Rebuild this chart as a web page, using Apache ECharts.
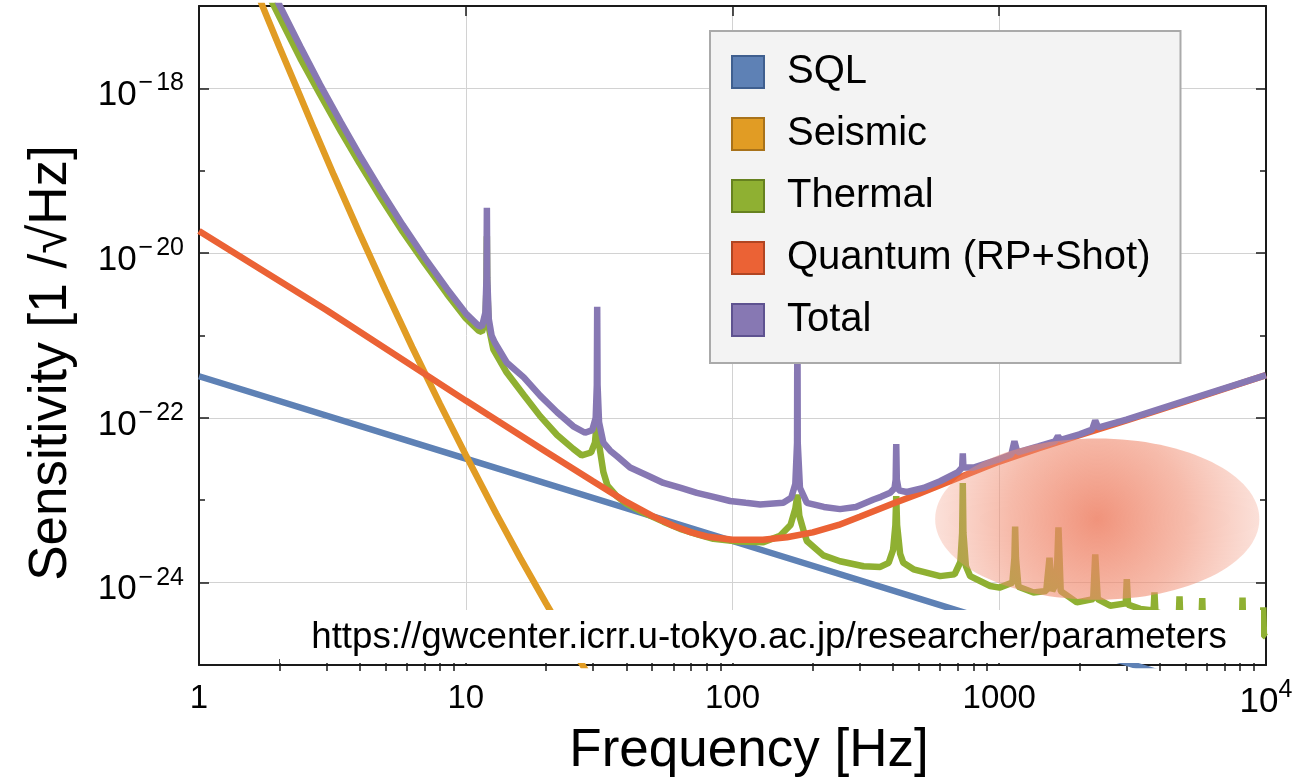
<!DOCTYPE html>
<html>
<head>
<meta charset="utf-8">
<script src="https://cdn.jsdelivr.net/npm/echarts@6.0.0/dist/echarts.min.js"></script>
<style>
  html, body { margin: 0; padding: 0; background: #fff; }
  #chart { width: 1315px; height: 778px; }
</style>
</head>
<body>
<div id="chart"></div>
<script>
// 轴刻度
var freqLabels = [1, 10, 100, 1000, 10000];
var freqMajorTicks = [10, 100, 1000];
var freqMinorTicks = [2, 3, 4, 5, 6, 7, 8, 9, 20, 30, 40, 50, 60, 70, 80, 90,
    200, 300, 400, 500, 600, 700, 800, 900, 2000, 3000, 4000, 5000, 6000, 7000, 8000, 9000];
var sensLabels = [1e-24, 1e-22, 1e-20, 1e-18];
var sensOddTicks = [1e-23, 1e-21, 1e-19];

// SQL
var sqlFreq = [1, 10, 100, 1000, 10000];
var sqlVal = [3.2e-22, 3.2e-23, 3.2e-24, 3.2e-25, 3.2e-26];

// Seismic
var seisFreq = [1.55, 1.73, 2.0, 2.3, 2.7, 3.2, 4.0, 5.0, 6.3, 8.0, 10, 13, 16, 20, 25, 32];
var seisVal = [2.5e-17, 1.0e-17, 3.2e-18, 1.1e-18, 3.2e-19, 8.9e-20, 1.74e-20, 3.55e-21,
    7.2e-22, 1.48e-22, 3.55e-23, 6.9e-24, 2.0e-24, 5.6e-25, 1.62e-25, 4.4e-26];

// Thermal
var thermFreq = [
    1.8, 2.01, 2.4, 2.84, 3.4,
    4.0, 4.8, 5.8, 7.0, 8.5,
    10, 11.15, 11.5, 11.85, 11.96,
    12.0, 12.04, 12.2, 12.69, 14.24,
    16.5, 19.0, 22, 25.3, 27.2,
    29.5, 30.5, 31.1, 31.7, 32.8,
    34.0, 36.8, 40, 46.3, 55,
    63.6, 75, 84.8, 105, 130.6,
    150.8, 165, 172, 175.1, 178,
    185, 190, 219, 253, 310,
    358, 385, 400, 408, 411,
    414, 425, 437, 477, 600,
    680, 715, 726, 730, 734,
    750, 778, 925, 1002, 1120,
    1140, 1147, 1155, 1180, 1344,
    1500, 1543, 1580, 1640, 1667,
    1700, 1954, 2250, 2290, 2340,
    2605, 2980, 3007, 3040, 3376,
    3790, 3818, 3850, 4300, 4710,
    4740, 4770, 5730, 5767, 5800,
    6500, 8120, 8166, 8210, 9000,
    9720, 9770, 9820, 10000
];
var thermVal = [
    1.48e-17, 7.2e-18, 2.3e-18, 8.5e-19, 3.0e-19,
    1.23e-19, 4.7e-20, 1.82e-20, 7.6e-21, 3.2e-21,
    1.62e-21, 1.15e-21, 1.1e-21, 1.5e-21, 4.0e-21,
    1.6e-20, 4.0e-21, 1.26e-21, 6.8e-22, 3.55e-22,
    1.9e-22, 1.05e-22, 6.2e-23, 4.2e-23, 3.5e-23,
    3.8e-23, 5.0e-23, 1.0e-22, 4.5e-23, 2.2e-23,
    1.5e-23, 1.12e-23, 9.1e-24, 7.1e-24, 5.5e-24,
    4.5e-24, 3.8e-24, 3.4e-24, 3.16e-24, 3.1e-24,
    3.7e-24, 5.0e-24, 7.9e-24, 1.17e-23, 6.5e-24,
    4.2e-24, 3.2e-24, 2.14e-24, 1.82e-24, 1.58e-24,
    1.55e-24, 1.74e-24, 2.5e-24, 5.0e-24, 1.12e-23,
    5.0e-24, 2.24e-24, 1.74e-24, 1.45e-24, 1.2e-24,
    1.26e-24, 1.78e-24, 4.0e-24, 1.62e-23, 4.0e-24,
    1.58e-24, 1.2e-24, 9.1e-25, 8.7e-25, 1.0e-24,
    2.0e-24, 4.8e-24, 2.0e-24, 8.9e-25, 7.6e-25,
    7.9e-25, 2.0e-24, 7.9e-25, 1.0e-24, 4.7e-24,
    7.9e-25, 5.75e-25, 6.3e-25, 2.2e-24, 6.3e-25,
    5.25e-25, 5.6e-25, 1.1e-24, 5.4e-25, 4.8e-25,
    4.6e-25, 7.6e-25, 4.4e-25, 4.0e-25, 3.8e-25,
    6.8e-25, 3.8e-25, 3.55e-25, 6.5e-25, 3.4e-25,
    3.2e-25, 2.75e-25, 6.6e-25, 2.7e-25, 2.5e-25,
    2.4e-25, 5.0e-25, 2.3e-25, 2.2e-25
];

// Quantum (RP+Shot)
var quantFreq = [1, 3, 10, 20, 30, 40, 50, 60, 70, 80, 100, 130, 160, 200,
    250, 300, 400, 500, 700, 1000, 1400, 2000, 3000, 5000, 10000];
var quantVal = [1.86e-20, 2.04e-21, 1.62e-22, 3.89e-23, 1.7e-23, 9.55e-24, 6.46e-24, 4.9e-24, 4.07e-24, 3.63e-24, 3.31e-24, 3.31e-24, 3.55e-24, 4.07e-24,
    5.01e-24, 6.31e-24, 9.12e-24, 1.2e-23, 1.86e-23, 2.95e-23, 4.27e-23, 6.17e-23, 9.33e-23, 1.58e-22, 3.31e-22];

// Total
var totFreq = [
    1.8, 2.01, 2.4, 2.84, 3.4,
    4.0, 4.8, 5.8, 7.0, 8.5,
    10, 11.15, 11.5, 11.85, 11.96,
    12.0, 12.04, 12.2, 12.5, 12.88,
    14.24, 16.5, 19.0, 22, 25.3,
    28.0, 29.8, 30.7, 31.0, 31.1,
    31.2, 31.6, 32.8, 34.8, 37,
    41.3, 48, 55.1, 64, 73.5,
    85, 98, 112, 126.9, 155,
    166, 172, 174.6, 175.1, 175.6,
    179, 190, 220, 253, 290,
    338, 360, 390, 405, 409,
    411, 413, 420, 450, 520,
    600, 700, 726, 730, 734,
    801, 1002, 1110, 1140, 1170,
    1400, 1620, 1660, 1700, 2000,
    2230, 2290, 2350, 3000, 5000,
    10000
];
var totVal = [
    2.1e-17, 1.0e-17, 3.2e-18, 1.12e-18, 3.9e-19,
    1.55e-19, 5.8e-20, 2.2e-20, 8.9e-21, 3.7e-21,
    1.86e-21, 1.32e-21, 1.28e-21, 1.9e-21, 5.0e-21,
    3.55e-20, 5.0e-21, 1.58e-21, 1.0e-21, 8.1e-22,
    4.7e-22, 3.1e-22, 1.86e-22, 1.17e-22, 7.9e-23,
    6.6e-23, 7.1e-23, 1.0e-22, 2.5e-22, 2.24e-21,
    2.5e-22, 8.9e-23, 5.0e-23, 4.0e-23, 3.4e-23,
    2.5e-23, 2.0e-23, 1.62e-23, 1.41e-23, 1.23e-23,
    1.1e-23, 9.8e-24, 9.3e-24, 8.9e-24, 9.3e-24,
    1.07e-23, 1.58e-23, 5.0e-23, 3.16e-21, 5.0e-23,
    1.41e-23, 9.3e-24, 8.3e-24, 7.8e-24, 8.3e-24,
    1.02e-23, 1.1e-23, 1.23e-23, 1.4e-23, 1.78e-23,
    4.8e-23, 1.78e-23, 1.32e-23, 1.26e-23, 1.41e-23,
    1.7e-23, 2.19e-23, 2.5e-23, 3.7e-23, 2.5e-23,
    2.5e-23, 3.16e-23, 3.6e-23, 5.2e-23, 3.8e-23,
    4.5e-23, 5.2e-23, 6.0e-23, 5.4e-23, 6.3e-23,
    7.2e-23, 9.3e-23, 7.6e-23, 9.5e-23, 1.62e-22,
    3.3e-22
];

// 椭圆高亮区域 (Hz, 1/√Hz)
var glowCenter = [2330, 5.9e-24];
var glowFreqEdge = 575;
var glowSensEdge = 5.6e-23;

var FONT = 'Liberation Sans';
var AXIS_COLOR = '#1a1a1a';

var seriesNames = ['SQL', 'Seismic', 'Thermal', 'Quantum (RP+Shot)', 'Total'];
var colors = ['#5e81b5', '#e19c24', '#8fb032', '#eb6235', '#8778b3'];
var borderColors = ['#3f5f8f', '#a8721a', '#66811f', '#b14522', '#5e5290'];
var freqs = [sqlFreq, seisFreq, thermFreq, quantFreq, totFreq];
var vals = [sqlVal, seisVal, thermVal, quantVal, totVal];

function zip(a, b) {
    return a.map(function (x, i) { return [x, b[i]]; });
}

function xLabel(v) {
    var e = Math.round(Math.log10(v));
    if (e < 4) return String(Math.pow(10, e));
    return '{b|10}{s|' + e + '}';
}
function yLabel(v) {
    var e = Math.round(Math.log10(v));
    if (e < 0) return '{b|10}{m|\u2212}{s|' + (-e) + '}';
    return '{b|10}{s|' + e + '}';
}

var rich = {
    b: { fontSize: 35, fontFamily: FONT, color: '#000', lineHeight: 42, verticalAlign: 'bottom' },
    m: { fontSize: 25, fontFamily: FONT, color: '#000', lineHeight: 20, verticalAlign: 'top', padding: [0, 3, 0, 2] },
    s: { fontSize: 25, fontFamily: FONT, color: '#000', lineHeight: 20, verticalAlign: 'top' }
};

function xAxisOf(grid, pos, opts) {
    return Object.assign({
        type: 'log', logBase: 10, min: 1, max: 10000,
        gridIndex: grid, position: pos,
        axisLine: { show: false },
        axisTick: { show: false },
        axisLabel: { show: false },
        splitLine: { show: false }
    }, opts);
}
function yAxisOf(grid, pos, opts) {
    return Object.assign({
        type: 'log', logBase: 10, min: 1e-25, max: 1e-17,
        gridIndex: grid, position: pos,
        axisLine: { show: false },
        axisTick: { show: false },
        axisLabel: { show: false },
        splitLine: { show: false }
    }, opts);
}

var frameLine = { show: true, onZero: false, lineStyle: { color: AXIS_COLOR, width: 2 } };
function ticks(values, len) {
    return { show: true, inside: true, length: len, customValues: values, lineStyle: { color: AXIS_COLOR, width: 1.5 } };
}
var gridLine = { show: true, lineStyle: { color: '#d2d2d2', width: 1 } };

var gridBox = { left: 199, right: 49, top: 6, bottom: 113, outerBoundsMode: 'none', containLabel: false };

var series = [];
for (let i = 0; i < seriesNames.length; i++) {
    series.push({
        name: seriesNames[i],
        type: 'line',
        xAxisIndex: 0,
        yAxisIndex: 0,
        data: zip(freqs[i], vals[i]),
        showSymbol: false,
        symbol: 'none',
        silent: true,
        z: 2 + i * 0.1,
        lineStyle: { color: colors[i], width: 6.5, join: 'bevel' },
        itemStyle: { color: colors[i] },
        emphasis: { disabled: true }
    });
}

var option = {
    animation: false,
    textStyle: { fontFamily: FONT },
    grid: [
        Object.assign({}, gridBox),
        Object.assign({}, gridBox),
        Object.assign({}, gridBox)
    ],
    xAxis: [
        xAxisOf(0, 'bottom', {
            axisLine: frameLine,
            axisTick: ticks(freqMajorTicks, 10),
            axisLabel: {
                show: true, customValues: freqLabels, formatter: xLabel,
                fontSize: 33, lineHeight: 42, color: '#000', margin: 13, fontFamily: FONT, rich: rich
            },
            name: 'Frequency [Hz]',
            nameLocation: 'middle',
            nameGap: 60,
            nameTextStyle: { fontSize: 53, color: '#000', fontFamily: FONT, padding: [0, 0, 0, 33] }
        }),
        xAxisOf(0, 'top', { axisLine: frameLine, axisTick: ticks(freqMajorTicks, 10) }),
        xAxisOf(1, 'bottom', { axisTick: ticks(freqMinorTicks, 6) }),
        xAxisOf(1, 'top', { axisTick: ticks(freqMinorTicks, 6) }),
        xAxisOf(2, 'bottom', {
            axisTick: { show: false, customValues: freqMajorTicks },
            splitLine: gridLine
        })
    ],
    yAxis: [
        yAxisOf(0, 'left', {
            axisLine: frameLine,
            axisTick: ticks(sensLabels, 10),
            axisLabel: {
                show: true, customValues: sensLabels, formatter: yLabel,
                fontSize: 33, lineHeight: 42, color: '#000', margin: 15, fontFamily: FONT,
                padding: [7, 0, 0, 0], rich: rich
            },
            name: 'Sensitivity [1 /\u221AHz]',
            nameLocation: 'middle',
            nameGap: 121,
            nameTextStyle: { fontSize: 53, color: '#000', fontFamily: FONT, padding: [0, 55, 0, 0] }
        }),
        yAxisOf(0, 'right', { axisLine: frameLine, axisTick: ticks(sensLabels, 10) }),
        yAxisOf(1, 'left', { axisTick: ticks(sensOddTicks, 6) }),
        yAxisOf(1, 'right', { axisTick: ticks(sensOddTicks, 6) }),
        yAxisOf(2, 'left', {
            axisTick: { show: false, customValues: sensLabels },
            splitLine: gridLine
        })
    ],
    legend: {
        orient: 'vertical',
        left: 710,
        top: 31,
        padding: [20, 30, 22, 21],
        backgroundColor: '#f3f3f3',
        borderColor: '#aaaaaa',
        borderWidth: 2,
        borderRadius: 0,
        itemWidth: 32,
        itemHeight: 32,
        itemGap: 20,
        icon: 'rect',
        selectedMode: false,
        z: 20,
        textStyle: { fontSize: 40, lineHeight: 42, color: '#000', fontFamily: FONT, padding: [0, 0, 0, 18] },
        data: seriesNames.map(function (n, i) {
            return { name: n, itemStyle: { color: colors[i], borderColor: borderColors[i], borderWidth: 2 } };
        })
    },
    series: series
};

var chart = echarts.init(document.getElementById('chart'), null, { renderer: 'canvas' });
chart.setOption(option);

// 椭圆高亮 + 来源网址
var finder = { xAxisIndex: 0, yAxisIndex: 0 };
var c = chart.convertToPixel(finder, glowCenter);
var l = chart.convertToPixel(finder, [glowFreqEdge, glowCenter[1]]);
var t = chart.convertToPixel(finder, [glowCenter[0], glowSensEdge]);
var rx = c[0] - l[0];
var ry = c[1] - t[1];

chart.setOption({
    graphic: [
        {
            type: 'ellipse',
            z: 10,
            silent: true,
            shape: { cx: c[0], cy: c[1], rx: rx, ry: ry },
            style: {
                fill: new echarts.graphic.RadialGradient(c[0], c[1], rx * 1.1, [
                    { offset: 0, color: 'rgba(238,128,100,0.85)' },
                    { offset: 0.5, color: 'rgba(240,138,110,0.58)' },
                    { offset: 1, color: 'rgba(242,150,125,0.22)' }
                ], true)
            }
        },
        {
            type: 'rect',
            z: 12,
            silent: true,
            shape: { x: 280, y: 610, width: 981, height: 53 },
            style: { fill: '#ffffff' }
        },
        {
            type: 'text',
            z: 13,
            silent: true,
            x: 769,
            y: 638,
            style: {
                text: 'https://gwcenter.icrr.u-tokyo.ac.jp/researcher/parameters',
                font: '36.7px "' + FONT + '"',
                fill: '#000',
                align: 'center',
                verticalAlign: 'middle'
            }
        }
    ]
});
</script>
</body>
</html>
